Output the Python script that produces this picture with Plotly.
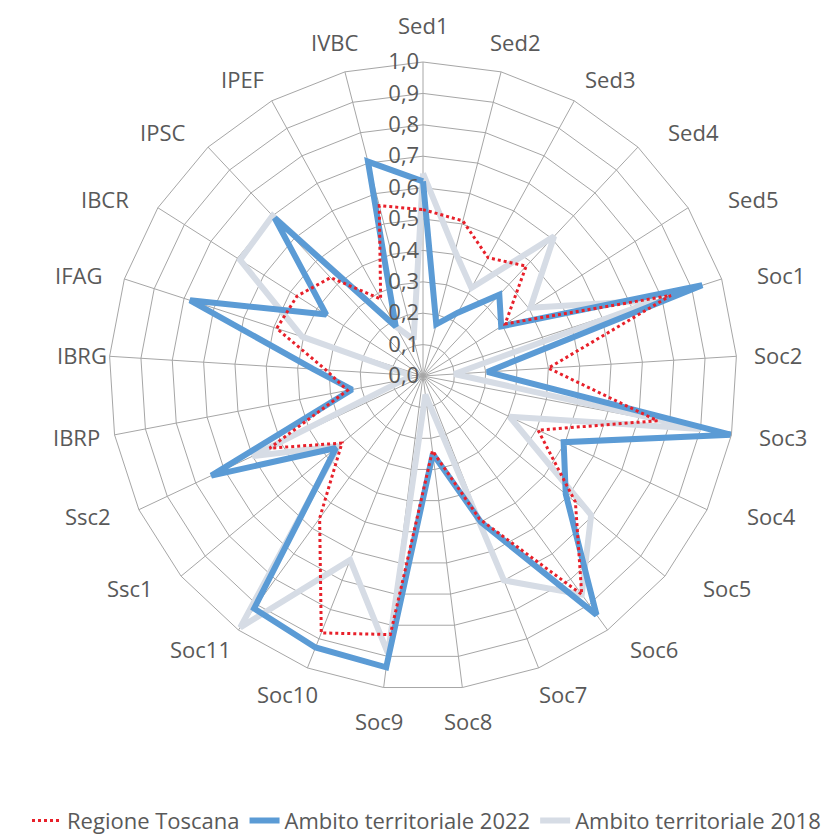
import math
import plotly.graph_objects as go

categories = ["Sed1", "Sed2", "Sed3", "Sed4", "Sed5", "Soc1", "Soc2", "Soc3", "Soc4", "Soc5",
              "Soc6", "Soc7", "Soc8", "Soc9", "Soc10", "Soc11", "Ssc1", "Ssc2", "IBRP", "IBRG",
              "IFAG", "IBCR", "IPSC", "IPEF", "IVBC"]

regione_toscana = [0.53, 0.51, 0.43, 0.48, 0.31, 0.83, 0.40, 0.76, 0.405, 0.63,
                   0.86, 0.49, 0.24, 0.83, 0.88, 0.56, 0.335, 0.54, 0.245, 0.31,
                   0.49, 0.475, 0.43, 0.28, 0.56]

ambito_2022 = [0.62, 0.17, 0.23, 0.355, 0.295, 0.935, 0.205, 1.0, 0.495, 0.59,
               0.94, 0.50, 0.25, 0.935, 0.93, 0.915, 0.36, 0.745, 0.23, 0.35,
               0.78, 0.365, 0.69, 0.18, 0.705]

ambito_2018 = [0.645, 0.41, 0.32, 0.61, 0.405, 0.78, 0.10, 0.90, 0.305, 0.695,
               0.86, 0.70, 0.06, 0.89, 0.63, 0.99, 0.35, 0.60, 0.06, 0.04,
               0.405, 0.69, 0.70, 0.18, 0.12]

radial_ticks = [0.0, 0.1, 0.2, 0.3, 0.4, 0.5, 0.6, 0.7, 0.8, 0.9, 1.0]

def closed(v):
    return list(v) + [v[0]]

theta = closed(categories)

fig = go.Figure()
fig.add_trace(go.Scatterpolar(
    r=closed(ambito_2018), theta=theta, mode="lines", name="Ambito territoriale 2018",
    line=dict(color="#d6dce5", width=6), hoverinfo="skip"))
fig.add_trace(go.Scatterpolar(
    r=closed(ambito_2022), theta=theta, mode="lines", name="Ambito territoriale 2022",
    line=dict(color="#5b9bd5", width=6), hoverinfo="skip"))
fig.add_trace(go.Scatterpolar(
    r=closed(regione_toscana), theta=theta, mode="lines", name="Regione Toscana",
    line=dict(color="#e8202a", width=3, dash="dot"), hoverinfo="skip"))

W = 837
cx, cy, R = 415, 368, 314   # polar centre and radius in page pixels

# category labels around the outer ring (radar-chart style placement)
annotations = []
n = len(categories)
for i, name in enumerate(categories):
    ang = math.radians(90 - 360.0 * i / n)
    c, s = math.cos(ang), math.sin(ang)
    dx = 350 + 45 * abs(math.sin(2 * ang)) - (14 if c < 0 else 0)
    dy = 351 - 24 * abs(c)
    annotations.append(dict(
        x=(cx + dx * c) / W, y=1 - (cy - dy * s) / W, xref="paper", yref="paper",
        text=name, showarrow=False, xanchor="center", yanchor="middle",
        font=dict(size=22, color="#595959", family="Open Sans"), borderpad=0))

fig.update_layout(
    width=W, height=W,
    margin=dict(l=0, r=0, t=0, b=0),
    paper_bgcolor="white",
    plot_bgcolor="white",
    separators=",.",
    font=dict(family="Open Sans", size=22, color="#595959"),
    annotations=annotations,
    polar=dict(
        domain=dict(x=[(cx - R) / W, (cx + R) / W], y=[1 - (cy + R) / W, 1 - (cy - R) / W]),
        bgcolor="white",
        gridshape="linear",
        angularaxis=dict(
            direction="clockwise", rotation=90, type="category",
            categoryorder="array", categoryarray=categories,
            showline=True, linecolor="#a6a6a6", linewidth=1,
            gridcolor="#a6a6a6", gridwidth=1,
            ticks="", showticklabels=False,
        ),
        radialaxis=dict(
            range=[0, 1], tickvals=radial_ticks, tickformat=".1f",
            angle=90, tickangle=90, side="counterclockwise",
            showline=False, ticks="",
            gridcolor="#a6a6a6", gridwidth=1,
            tickfont=dict(size=22, color="#595959"),
        ),
    ),
    legend=dict(
        orientation="h", x=0.5, xanchor="center", y=0.004, yanchor="bottom",
        font=dict(size=22, color="#595959"), traceorder="reversed",
        itemwidth=30,
    ),
    showlegend=True,
)

fig.write_html("out.html")
